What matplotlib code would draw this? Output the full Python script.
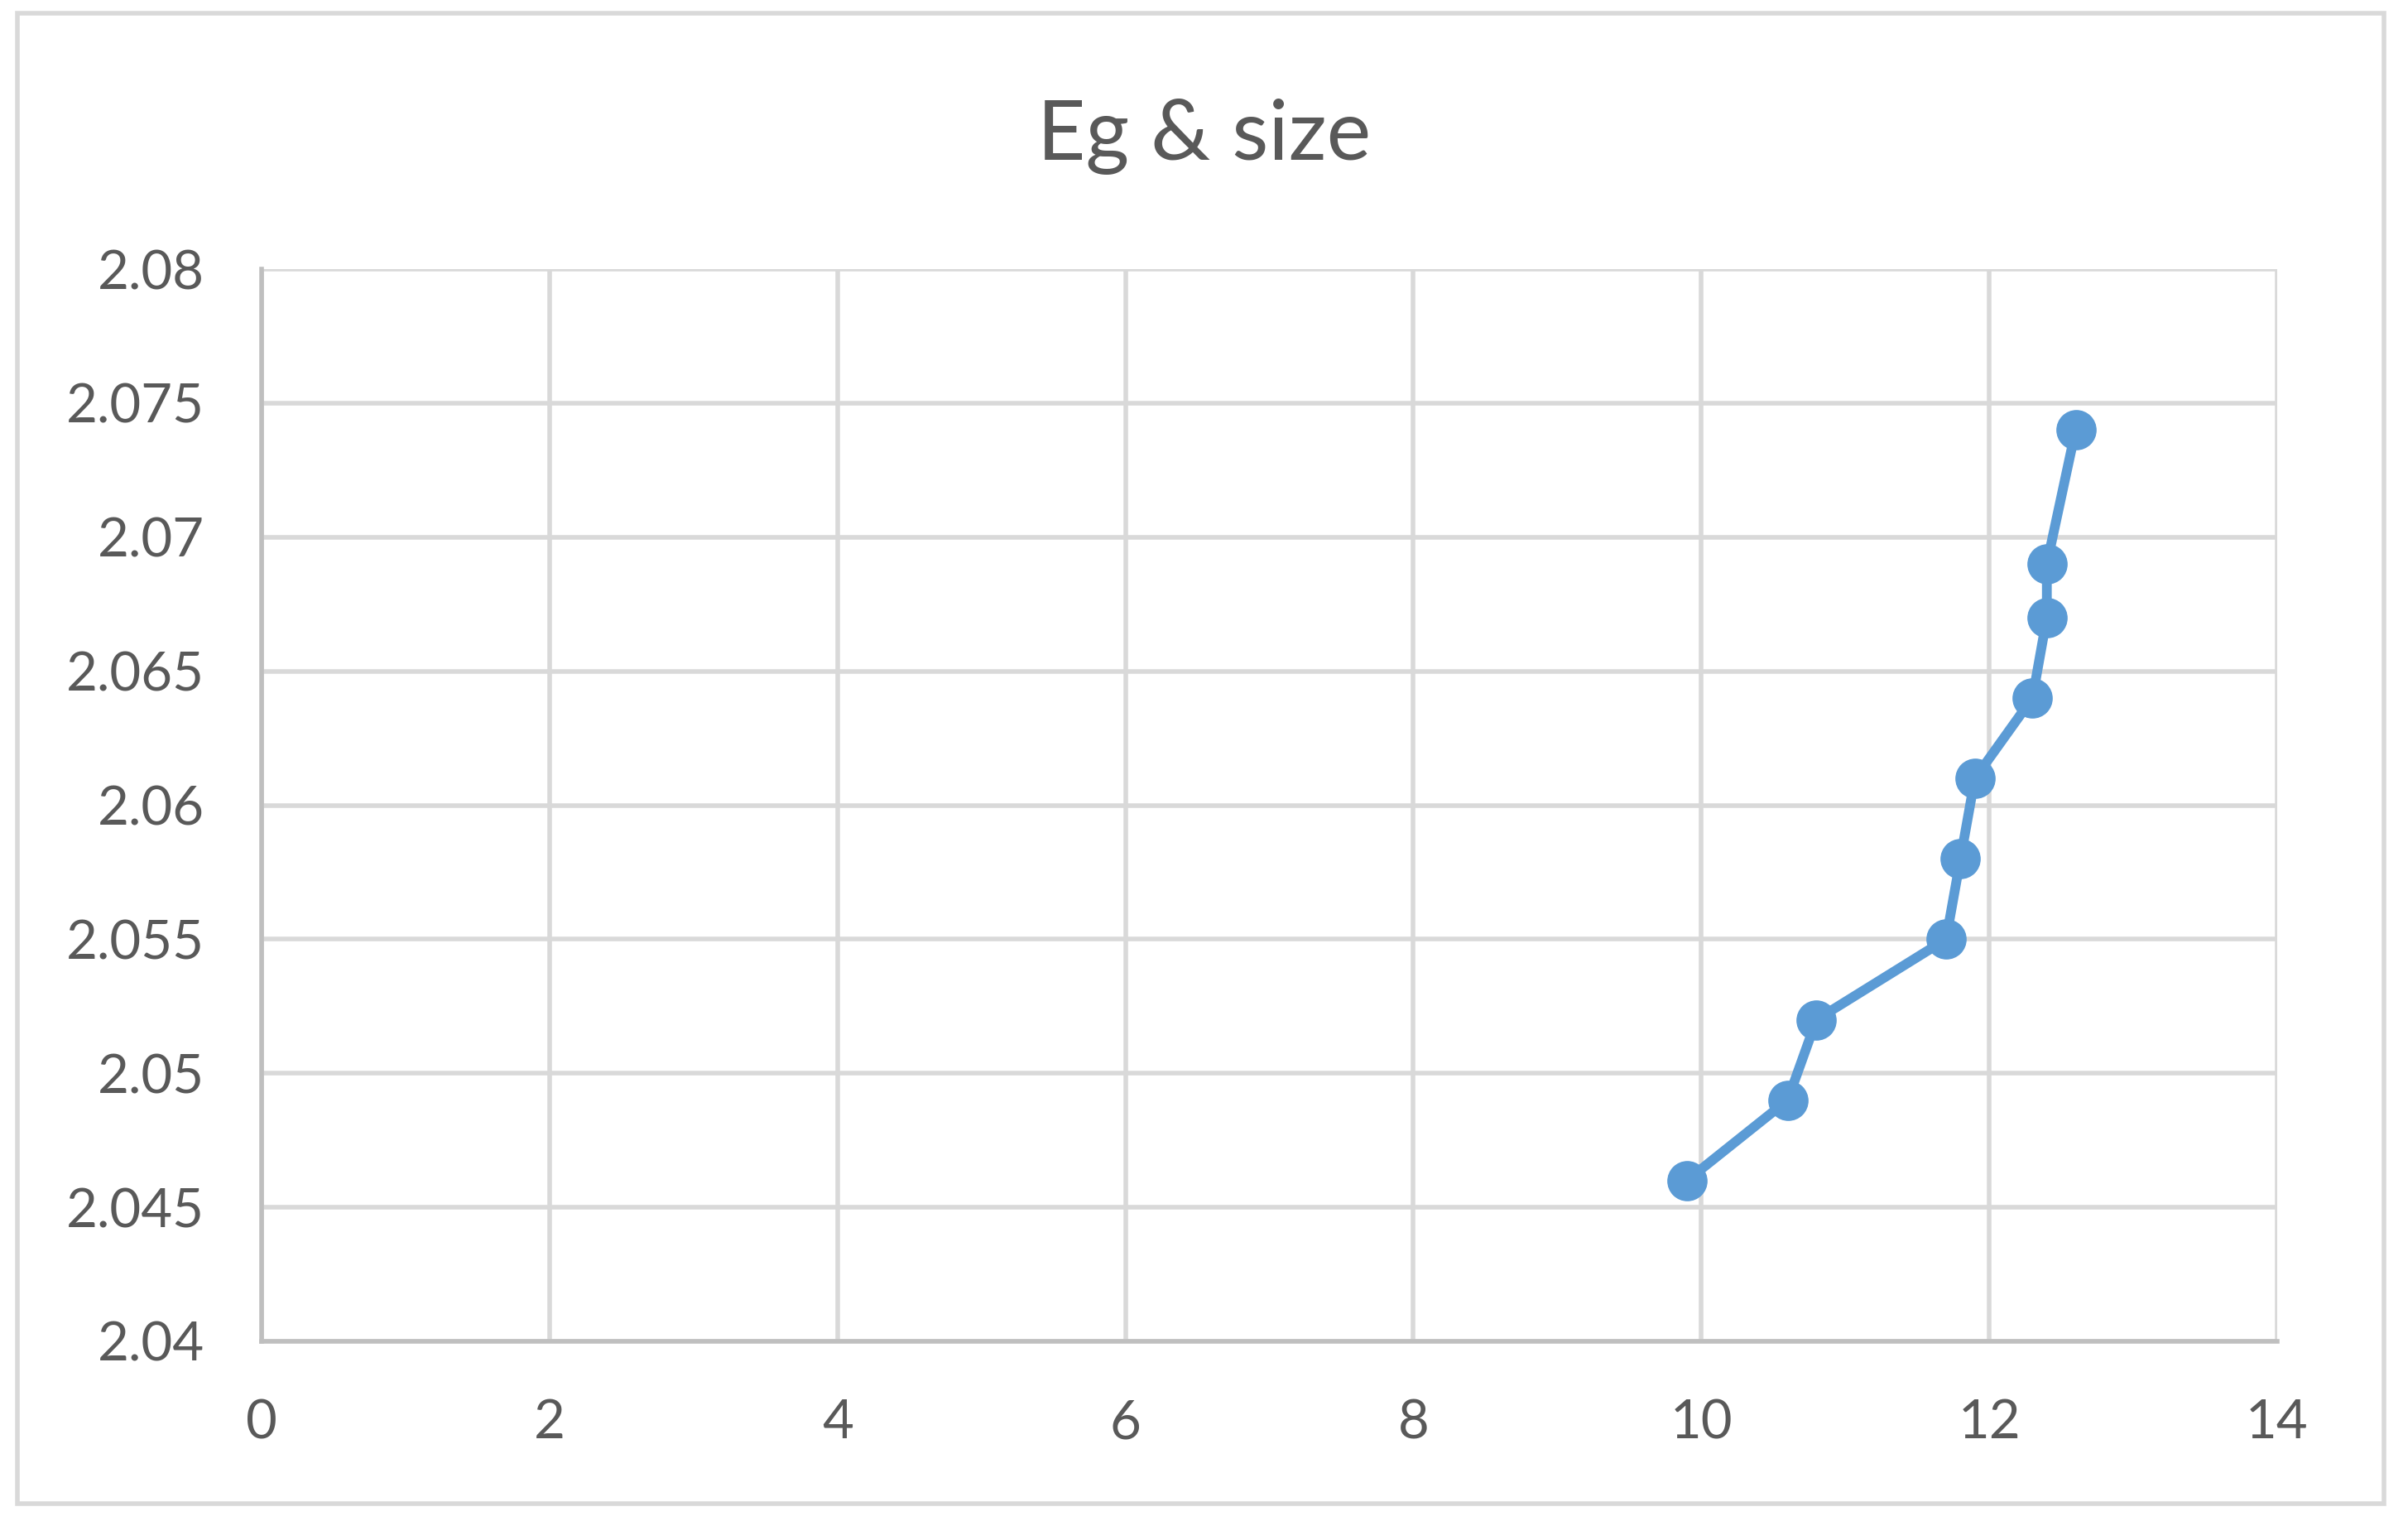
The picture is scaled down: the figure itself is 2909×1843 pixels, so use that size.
import matplotlib
matplotlib.use("Agg")
import matplotlib.pyplot as plt
from matplotlib.patches import Rectangle

size_nm = [9.9, 10.6, 10.8, 11.7, 11.8, 11.9, 12.3, 12.4, 12.4, 12.6]
eg_ev = [2.046, 2.049, 2.052, 2.055, 2.058, 2.061, 2.064, 2.067, 2.069, 2.074]
x_ticks = [0, 2, 4, 6, 8, 10, 12, 14]
y_ticks = [2.04, 2.045, 2.05, 2.055, 2.06, 2.065, 2.07, 2.075, 2.08]
y_labels = ["2.04", "2.045", "2.05", "2.055", "2.06", "2.065", "2.07", "2.075", "2.08"]
title = "Eg & size"

plt.rcParams['font.family'] = ['Lato', 'DejaVu Sans']
W, H = 2909, 1843
fig = plt.figure(figsize=(W/100, H/100), dpi=100)
fig.patch.set_facecolor('white')

# outer border
fig.patches.append(Rectangle((21/W, 1-1816/H), (2880-21)/W, (1816-16)/H,
                             transform=fig.transFigure, fill=False,
                             edgecolor='#D9D9D9', linewidth=4))

ax = fig.add_axes([316/W, 1-1620/H, (2751-316)/W, (1620-325)/H])
ax.set_xlim(0, 14)
ax.set_ylim(2.04, 2.08)
ax.set_xticks(x_ticks)
ax.set_xticklabels([str(t) for t in x_ticks])
ax.set_yticks(y_ticks)
ax.set_yticklabels(y_labels)
ax.grid(True, color='#D9D9D9', linewidth=4)
ax.set_axisbelow(True)
for s in ['top', 'right']:
    ax.spines[s].set_visible(False)
for s in ['left', 'bottom']:
    ax.spines[s].set_color('#BFBFBF')
    ax.spines[s].set_linewidth(4)
ax.tick_params(length=0, labelsize=47, colors='#595959')
ax.tick_params(axis='y', pad=50)
ax.tick_params(axis='x', pad=50)

ax.plot(size_nm, eg_ev, color='#5B9BD5', linewidth=8.5, marker='o',
        markersize=34, markerfacecolor='#5B9BD5', markeredgecolor='#5B9BD5',
        solid_capstyle='round', zorder=3, clip_on=False)

fig.text(0.5, 1-193/H, title, ha='center', va='baseline', fontsize=73, color='#595959')

fig.savefig('out.png', dpi=100, facecolor='white')
